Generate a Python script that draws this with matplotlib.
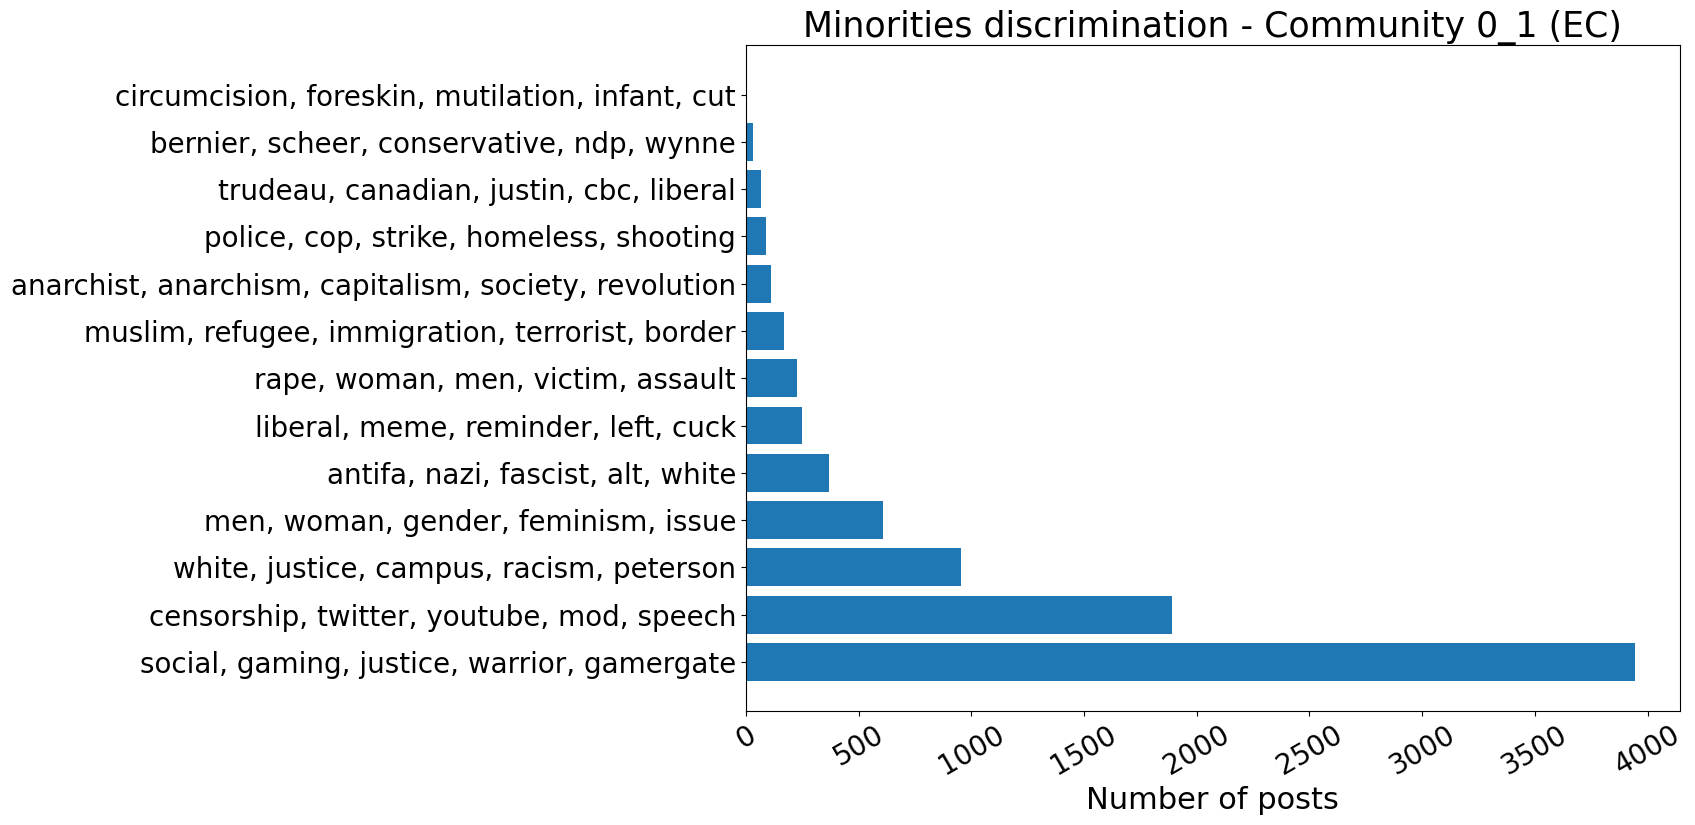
import matplotlib.pyplot as plt

topics = ['social, gaming, justice, warrior, gamergate',
          'censorship, twitter, youtube, mod, speech',
          'white, justice, campus, racism, peterson',
          'men, woman, gender, feminism, issue',
          'antifa, nazi, fascist, alt, white',
          'liberal, meme, reminder, left, cuck',
          'rape, woman, men, victim, assault',
          'muslim, refugee, immigration, terrorist, border',
          'anarchist, anarchism, capitalism, society, revolution',
          'police, cop, strike, homeless, shooting',
          'trudeau, canadian, justin, cbc, liberal',
          'bernier, scheer, conservative, ndp, wynne',
          'circumcision, foreskin, mutilation, infant, cut']
posts = [3945, 1890, 955, 609, 369, 250, 227, 170, 112, 90, 68, 31, 2]

fig = plt.figure(figsize=(16.95, 8.25), dpi=100)
ax = fig.add_axes([0.44, 0.138, 0.551, 0.807])
ax.barh(topics, posts, color='#1f77b4')
ax.set_title('Minorities discrimination - Community 0_1 (EC)', fontsize=25)
ax.set_xlabel('Number of posts', fontsize=22)
ax.tick_params(axis='y', labelsize=20)
ax.tick_params(axis='x', labelsize=20, labelrotation=30)

plt.savefig('out.png')
